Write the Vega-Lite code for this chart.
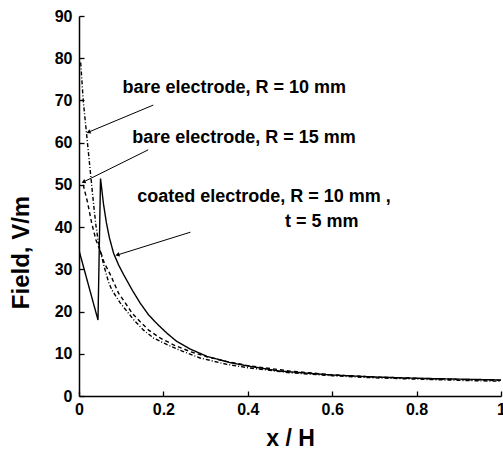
{
  "$schema": "https://vega.github.io/schema/vega-lite/v6.json",
  "width": 422,
  "height": 380,
  "autosize": {"type": "none"},
  "padding": {"left": 79, "top": 16, "right": 2, "bottom": 54},
  "background": "white",
  "config": {
    "view": {"stroke": null},
    "font": "Liberation Sans",
    "axis": {
      "grid": false,
      "domainColor": "black",
      "domainWidth": 1.5,
      "tickColor": "black",
      "tickWidth": 1.3,
      "tickSize": -5,
      "labelFont": "Liberation Sans",
      "labelFontWeight": "bold",
      "labelFontSize": 16,
      "labelColor": "black",
      "titleFont": "Liberation Sans",
      "titleFontWeight": "bold",
      "titleFontSize": 24,
      "titleColor": "black"
    }
  },
  "datasets": {
    "curves": [
      {"series": "bare10", "x": 0.004, "y": 79},
      {"series": "bare10", "x": 0.01, "y": 70},
      {"series": "bare10", "x": 0.015, "y": 65},
      {"series": "bare10", "x": 0.02, "y": 60},
      {"series": "bare10", "x": 0.025, "y": 55},
      {"series": "bare10", "x": 0.03, "y": 50},
      {"series": "bare10", "x": 0.035, "y": 45},
      {"series": "bare10", "x": 0.04, "y": 40.5},
      {"series": "bare10", "x": 0.045, "y": 37},
      {"series": "bare10", "x": 0.05, "y": 34.5},
      {"series": "bare10", "x": 0.06, "y": 30.5},
      {"series": "bare10", "x": 0.07, "y": 27},
      {"series": "bare10", "x": 0.078, "y": 25.1},
      {"series": "bare10", "x": 0.098, "y": 22},
      {"series": "bare10", "x": 0.114, "y": 20},
      {"series": "bare10", "x": 0.13, "y": 18},
      {"series": "bare10", "x": 0.153, "y": 15.6},
      {"series": "bare10", "x": 0.177, "y": 13.7},
      {"series": "bare10", "x": 0.208, "y": 12.2},
      {"series": "bare10", "x": 0.24, "y": 10.8},
      {"series": "bare10", "x": 0.287, "y": 9},
      {"series": "bare10", "x": 0.35, "y": 7.5},
      {"series": "bare10", "x": 0.4, "y": 6.7},
      {"series": "bare10", "x": 0.5, "y": 5.5},
      {"series": "bare10", "x": 0.6, "y": 4.8},
      {"series": "bare10", "x": 0.7, "y": 4.3},
      {"series": "bare10", "x": 0.8, "y": 4.0},
      {"series": "bare10", "x": 0.9, "y": 3.7},
      {"series": "bare10", "x": 1.0, "y": 3.5},
      {"series": "bare15", "x": 0.01, "y": 50},
      {"series": "bare15", "x": 0.015, "y": 48},
      {"series": "bare15", "x": 0.02, "y": 46},
      {"series": "bare15", "x": 0.025, "y": 43.5},
      {"series": "bare15", "x": 0.03, "y": 41},
      {"series": "bare15", "x": 0.035, "y": 39},
      {"series": "bare15", "x": 0.04, "y": 37},
      {"series": "bare15", "x": 0.05, "y": 34.5},
      {"series": "bare15", "x": 0.06, "y": 31.5},
      {"series": "bare15", "x": 0.0745, "y": 28.7},
      {"series": "bare15", "x": 0.094, "y": 24.3},
      {"series": "bare15", "x": 0.11, "y": 22},
      {"series": "bare15", "x": 0.126, "y": 19.6},
      {"series": "bare15", "x": 0.145, "y": 17.6},
      {"series": "bare15", "x": 0.165, "y": 15.6},
      {"series": "bare15", "x": 0.193, "y": 13.7},
      {"series": "bare15", "x": 0.224, "y": 12.1},
      {"series": "bare15", "x": 0.264, "y": 10.5},
      {"series": "bare15", "x": 0.303, "y": 9.3},
      {"series": "bare15", "x": 0.35, "y": 8.2},
      {"series": "bare15", "x": 0.4, "y": 7.2},
      {"series": "bare15", "x": 0.5, "y": 5.9},
      {"series": "bare15", "x": 0.6, "y": 5.0},
      {"series": "bare15", "x": 0.7, "y": 4.5},
      {"series": "bare15", "x": 0.8, "y": 4.2},
      {"series": "bare15", "x": 0.9, "y": 3.9},
      {"series": "bare15", "x": 1.0, "y": 3.7},
      {"series": "coated", "x": 0.0, "y": 34.5},
      {"series": "coated", "x": 0.045, "y": 18},
      {"series": "coated", "x": 0.051, "y": 51.5},
      {"series": "coated", "x": 0.058, "y": 45.5},
      {"series": "coated", "x": 0.065, "y": 41},
      {"series": "coated", "x": 0.072, "y": 37.5},
      {"series": "coated", "x": 0.082, "y": 33.8},
      {"series": "coated", "x": 0.094, "y": 31},
      {"series": "coated", "x": 0.106, "y": 28.7},
      {"series": "coated", "x": 0.126, "y": 25.1},
      {"series": "coated", "x": 0.145, "y": 22},
      {"series": "coated", "x": 0.165, "y": 19.2},
      {"series": "coated", "x": 0.185, "y": 17.1},
      {"series": "coated", "x": 0.208, "y": 14.9},
      {"series": "coated", "x": 0.232, "y": 12.9},
      {"series": "coated", "x": 0.264, "y": 11.1},
      {"series": "coated", "x": 0.303, "y": 9.4},
      {"series": "coated", "x": 0.358, "y": 7.9},
      {"series": "coated", "x": 0.4, "y": 7.1},
      {"series": "coated", "x": 0.476, "y": 5.9},
      {"series": "coated", "x": 0.595, "y": 5.0},
      {"series": "coated", "x": 0.7, "y": 4.5},
      {"series": "coated", "x": 0.8, "y": 4.2},
      {"series": "coated", "x": 0.9, "y": 4.0},
      {"series": "coated", "x": 1.0, "y": 3.8}
    ],
    "leaders": [
      {"id": 1, "x": 0.176, "y": 68.9, "x2": 0.0225, "y2": 62.5},
      {"id": 2, "x": 0.164, "y": 58.3, "x2": 0.0106, "y2": 50.7},
      {"id": 3, "x": 0.264, "y": 38.8, "x2": 0.091, "y2": 33.4}
    ],
    "labels": [
      {"x": 0.103, "y": 71.8, "text": "bare electrode, R = 10 mm"},
      {"x": 0.126, "y": 59.9, "text": "bare electrode, R = 15 mm"},
      {"x": 0.138, "y": 45.9, "text": "coated electrode, R = 10 mm ,"},
      {"x": 0.488, "y": 40.0, "text": "t = 5 mm"}
    ]
  },
  "layer": [
    {
      "data": {"name": "curves"},
      "mark": {"type": "line", "color": "black", "strokeWidth": 1.4, "clip": true},
      "encoding": {
        "x": {
          "field": "x", "type": "quantitative",
          "scale": {"domain": [0, 1], "nice": false},
          "axis": {"values": [0, 0.2, 0.4, 0.6, 0.8, 1], "format": "~g", "title": "x / H", "titleFontSize": 23, "titleBaseline": "alphabetic", "titleY": 49, "labelPadding": 10, "labelFlush": false}
        },
        "y": {
          "field": "y", "type": "quantitative",
          "scale": {"domain": [0, 90], "nice": false},
          "axis": {"values": [0, 10, 20, 30, 40, 50, 60, 70, 80, 90], "title": "Field, V/m", "titleBaseline": "alphabetic", "titleX": -51, "titleY": 236, "labelPadding": 12}
        },
        "detail": {"field": "series"},
        "strokeDash": {
          "field": "series", "type": "nominal",
          "scale": {"domain": ["bare10", "bare15", "coated"], "range": [[4, 2, 1, 2], [4, 3], [1, 0]]},
          "legend": null
        }
      }
    },
    {
      "data": {"name": "leaders"},
      "mark": {"type": "rule", "color": "black", "strokeWidth": 1},
      "encoding": {
        "x": {"field": "x", "type": "quantitative"},
        "y": {"field": "y", "type": "quantitative"},
        "x2": {"field": "x2"},
        "y2": {"field": "y2"}
      }
    },
    {
      "data": {"name": "leaders"},
      "transform": [{"filter": "datum.id == 1"}],
      "mark": {"type": "point", "shape": "triangle-up", "filled": true, "color": "black", "size": 22, "angle": 247, "opacity": 1},
      "encoding": {
        "x": {"field": "x2", "type": "quantitative"},
        "y": {"field": "y2", "type": "quantitative"}
      }
    },
    {
      "data": {"name": "leaders"},
      "transform": [{"filter": "datum.id == 2"}],
      "mark": {"type": "point", "shape": "triangle-up", "filled": true, "color": "black", "size": 22, "angle": 244, "opacity": 1},
      "encoding": {
        "x": {"field": "x2", "type": "quantitative"},
        "y": {"field": "y2", "type": "quantitative"}
      }
    },
    {
      "data": {"name": "leaders"},
      "transform": [{"filter": "datum.id == 3"}],
      "mark": {"type": "point", "shape": "triangle-up", "filled": true, "color": "black", "size": 22, "angle": 252, "opacity": 1},
      "encoding": {
        "x": {"field": "x2", "type": "quantitative"},
        "y": {"field": "y2", "type": "quantitative"}
      }
    },
    {
      "data": {"name": "labels"},
      "mark": {"type": "text", "align": "left", "baseline": "alphabetic", "font": "Liberation Sans", "fontWeight": "bold", "fontSize": 18, "color": "black"},
      "encoding": {
        "x": {"field": "x", "type": "quantitative"},
        "y": {"field": "y", "type": "quantitative"},
        "text": {"field": "text"}
      }
    }
  ]
}
